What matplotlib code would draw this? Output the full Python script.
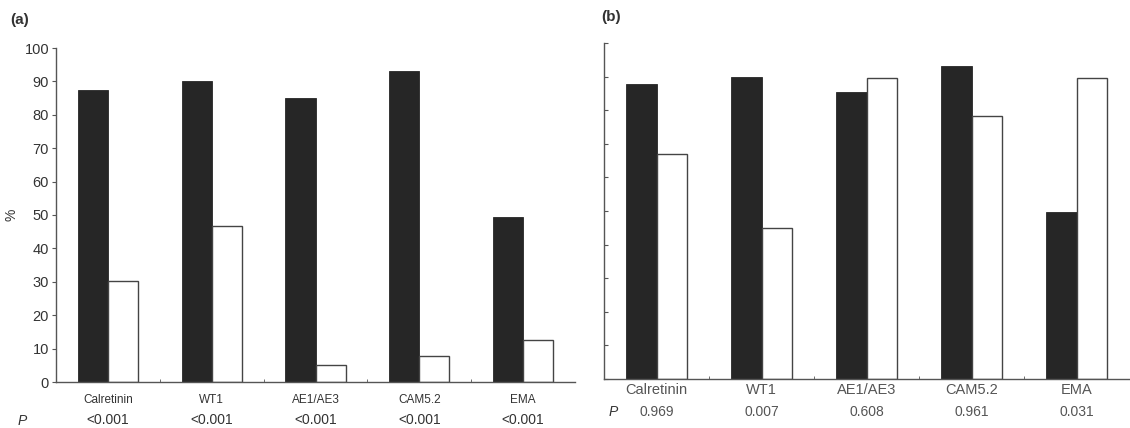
import matplotlib
matplotlib.use("Agg")
import matplotlib.pyplot as plt
import matplotlib.transforms as mtransforms
from matplotlib import font_manager

categories = ["Calretinin", "WT1", "AE1/AE3", "CAM5.2", "EMA"]
a_dark = [87.3, 90.1, 85.0, 93.0, 49.5]
a_white = [30.2, 46.8, 5.0, 7.8, 12.5]
a_p = ["<0.001", "<0.001", "<0.001", "<0.001", "<0.001"]
b_dark = [87.8, 90.0, 85.3, 93.2, 49.8]
b_white = [66.9, 44.9, 89.5, 78.2, 89.6]
b_p = ["0.969", "0.007", "0.608", "0.961", "0.031"]
yticks_a = [0, 10, 20, 30, 40, 50, 60, 70, 80, 90, 100]

names = {f.name for f in font_manager.fontManager.ttflist}
narrow = "Liberation Sans Narrow" if "Liberation Sans Narrow" in names else "Liberation Sans"
plt.rcParams["font.family"] = ["Liberation Sans", "DejaVu Sans"]

W, H = 1130, 428
fig = plt.figure(figsize=(W / 100, H / 100), dpi=100)

def fy(py):
    return 1 - py / H

dark_col = "#262626"
txt_col = "#333333"
spine_col = "#555555"
bw = 0.29

def style(ax, inward):
    for s in ["top", "right"]:
        ax.spines[s].set_visible(False)
    for s in ["left", "bottom"]:
        ax.spines[s].set_color(spine_col)
        ax.spines[s].set_linewidth(1.0)
    ax.set_xlim(-0.5, 4.5)
    ax.set_ylim(0, 100)
    ax.set_xticks([])
    ax.set_xticks([0.5, 1.5, 2.5, 3.5], minor=True)
    ax.tick_params(axis="x", which="minor", length=2, direction="in", color=spine_col)
    ax.set_yticks(yticks_a)
    ax.tick_params(axis="y", length=3, direction="in" if inward else "out",
                   color=spine_col, labelcolor=txt_col, labelsize=10.5, pad=2)

x = list(range(len(categories)))

# Panel (a)
ax1 = fig.add_axes([56 / W, (H - 382) / H, 519 / W, 334 / H])
style(ax1, inward=False)
ax1.bar([i - bw / 2 for i in x], a_dark, width=bw, color=dark_col, edgecolor=dark_col, linewidth=0.6)
ax1.bar([i + bw / 2 for i in x], a_white, width=bw, color="white", edgecolor="#444444", linewidth=1.0)
ax1.set_ylabel("%", color=txt_col, fontsize=10, labelpad=4)
tr1 = mtransforms.blended_transform_factory(ax1.transData, fig.transFigure)
for i, c in enumerate(categories):
    ax1.text(i, fy(400), c, transform=tr1, ha="center", va="center",
             fontsize=8.5, color=txt_col, family=[narrow, "DejaVu Sans"])
    ax1.text(i, fy(420), a_p[i], transform=tr1, ha="center", va="center",
             fontsize=10, color=txt_col)
fig.text(22 / W, fy(421), "P", ha="center", va="center", fontsize=10, style="italic", color=txt_col)
fig.text(10 / W, fy(20), "(a)", ha="left", va="center", fontsize=11, fontweight="bold", color=txt_col)

# Panel (b)
ax2 = fig.add_axes([604 / W, (H - 379) / H, 525 / W, 336 / H])
style(ax2, inward=True)
ax2.set_yticklabels([])
ax2.bar([i - bw / 2 for i in x], b_dark, width=bw, color=dark_col, edgecolor=dark_col, linewidth=0.6)
ax2.bar([i + bw / 2 for i in x], b_white, width=bw, color="white", edgecolor="#444444", linewidth=1.0)
tr2 = mtransforms.blended_transform_factory(ax2.transData, fig.transFigure)
for i, c in enumerate(categories):
    ax2.text(i, fy(390), c, transform=tr2, ha="center", va="center",
             fontsize=10.5, color="#555555")
    ax2.text(i, fy(412), b_p[i], transform=tr2, ha="center", va="center",
             fontsize=10, color="#555555")
fig.text(613 / W, fy(412), "P", ha="center", va="center", fontsize=10, style="italic", color=txt_col)
fig.text(601 / W, fy(17), "(b)", ha="left", va="center", fontsize=11, fontweight="bold", color=txt_col)

fig.savefig("out.png", dpi=100)
